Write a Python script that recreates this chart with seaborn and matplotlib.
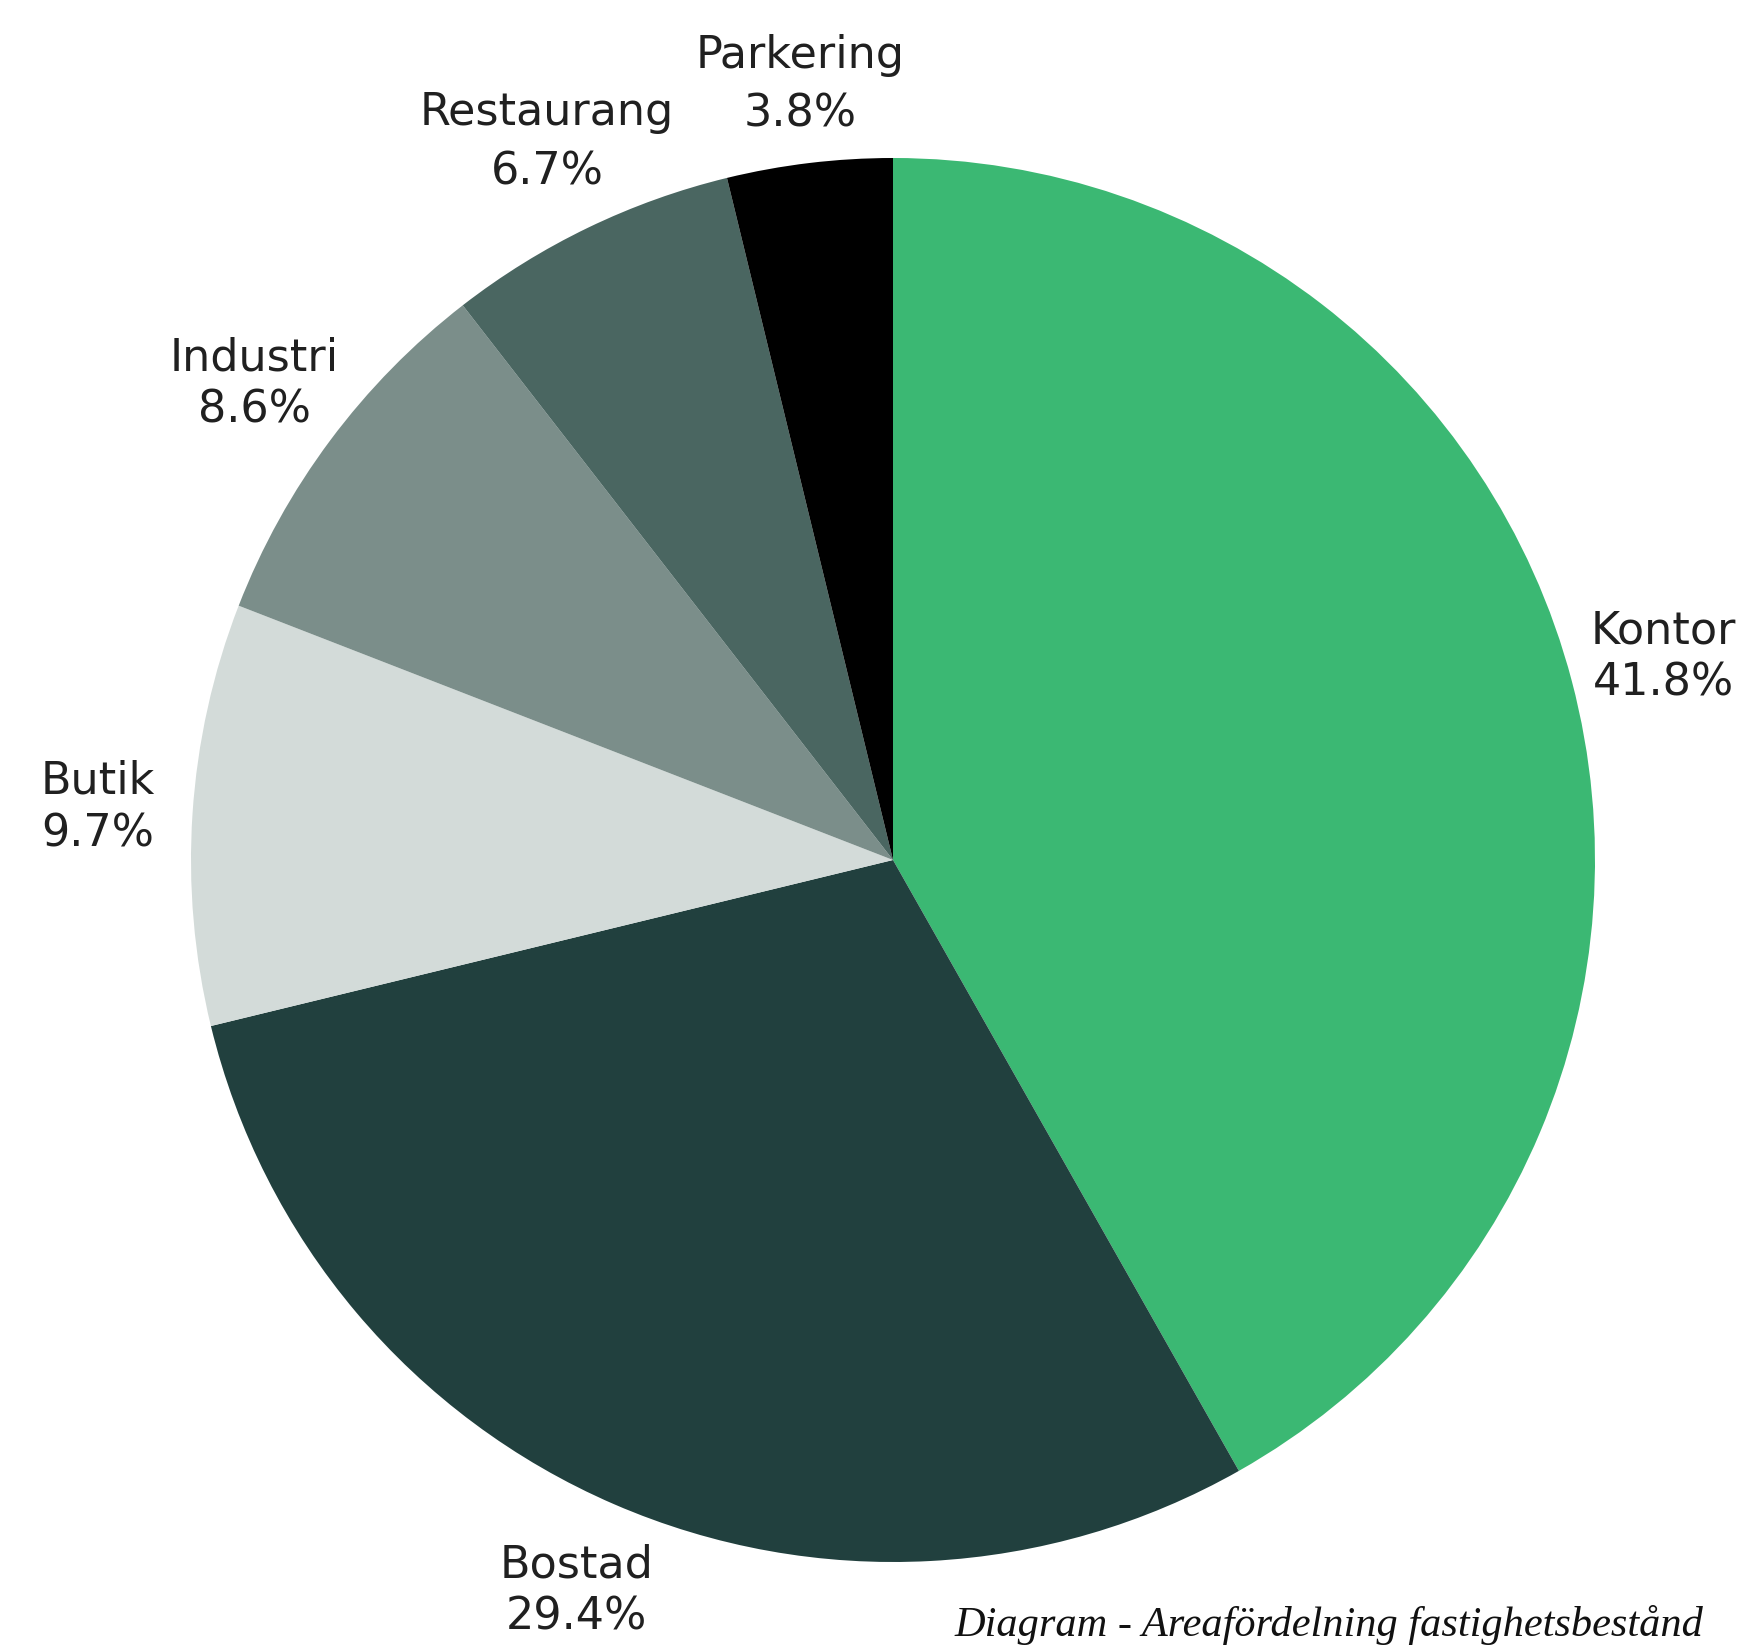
import matplotlib
matplotlib.use("Agg")
import matplotlib.pyplot as plt
import seaborn as sns

# Area distribution of the property portfolio (%)
categories = ["Kontor", "Bostad", "Butik", "Industri", "Restaurang", "Parkering"]
shares = [41.8, 29.4, 9.7, 8.6, 6.7, 3.8]
colors = ["#3bb873", "#21403e", "#d3dbd9", "#7b8e8a", "#4a6661", "#000000"]
caption = "Diagram - Areafördelning fastighetsbestånd"

sns.set_theme(style="white")
plt.rcParams['font.family'] = ['DejaVu Sans']

W, H = 1761, 1645
cx, cy, R = 893, 860, 702   # pie centre and radius in pixels

fig = plt.figure(figsize=(W / 100, H / 100), dpi=100)
ax = fig.add_axes([0, 0, 1, 1])

labels = [f"{c}\n{s}%" for c, s in zip(categories, shares)]
wedges, texts = ax.pie(
    shares,
    labels=labels,
    colors=colors,
    startangle=90,
    counterclock=False,
    radius=1,
    labeldistance=1.135,
    wedgeprops=dict(linewidth=0),
    textprops=dict(fontsize=32, color="#202020"),
)
for name, t in zip(categories, texts):
    t.set_horizontalalignment("center")
    t.set_verticalalignment("center")
    t.set_multialignment("center")
    # the two top labels are set a bit looser in the original
    if name == "Parkering":
        t.set_linespacing(1.47)
        x, y = t.get_position()
        t.set_position((x * 0.98, y * 0.98))
    elif name == "Restaurang":
        t.set_linespacing(1.47)
    else:
        t.set_linespacing(1.27)

ax.set_xlim(-cx / R, (W - cx) / R)
ax.set_ylim(-(H - cy) / R, cy / R)
ax.set_aspect("equal", adjustable="datalim")
ax.axis("off")

fig.text(954 / W, 1 - 1636 / H, caption, family="Liberation Serif",
         style="italic", fontsize=30.5, color="#111111",
         ha="left", va="baseline")

fig.savefig("out.png", dpi=100, facecolor="white")
